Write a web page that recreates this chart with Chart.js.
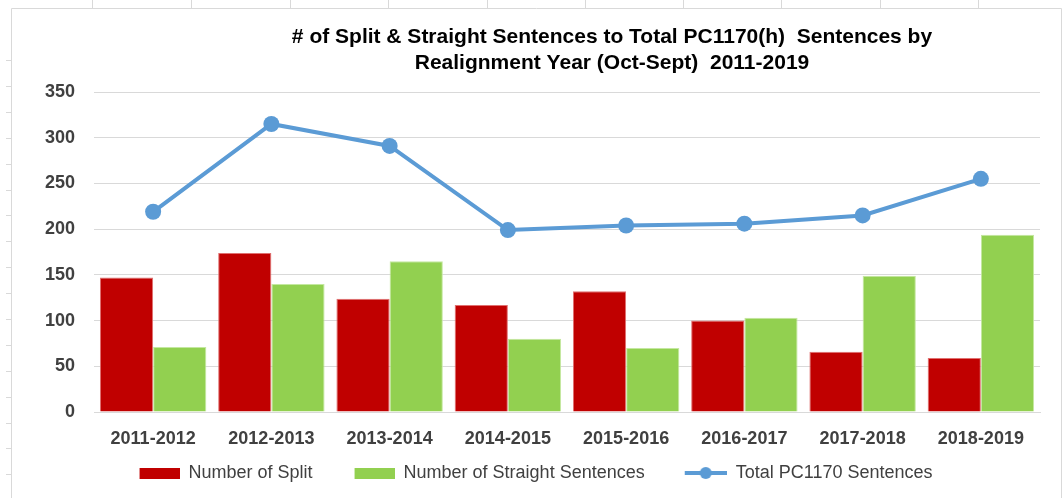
<!DOCTYPE html>
<html>
<head>
<meta charset="utf-8">
<script src="https://cdn.jsdelivr.net/npm/chart.js@4.4.1/dist/chart.umd.min.js"></script>
<style>
  html, body { margin: 0; padding: 0; background: #fff; }
  #wrap { width: 1062px; height: 498px; position: relative; }
</style>
</head>
<body>
<div id="wrap"><canvas id="chart"></canvas></div>
<script>
// Data
const years = ["2011-2012", "2012-2013", "2013-2014", "2014-2015", "2015-2016", "2016-2017", "2017-2018", "2018-2019"];
const splitCounts = [147, 174, 124, 117, 132, 100, 66, 59];
const straightCounts = [71, 140, 165, 80, 70, 103, 149, 194];
const totalCounts = [219, 315, 291, 199, 204, 206, 215, 255];
const seriesNames = ["Number of Split", "Number of Straight Sentences", "Total PC1170 Sentences"];
const titleLines = ["# of Split & Straight Sentences to Total PC1170(h)  Sentences by", "Realignment Year (Oct-Sept)  2011-2019"];
const yMax = 350;
const yStep = 50;

const RED = "#C00000";
const GREEN = "#92D050";
const BLUE = "#5B9BD5";
const GRID = "#D9D9D9";

Chart.defaults.font.family = "'Liberation Sans', Arial, sans-serif";

// legend icons: transparent lead-in gives the gap between items
function makeIcon(kind, color) {
  const c = document.createElement("canvas");
  c.width = 72;
  c.height = 14;
  const g = c.getContext("2d");
  if (kind === "box") {
    g.fillStyle = color;
    g.fillRect(32, 2, 40, 11);
  } else {
    g.strokeStyle = color;
    g.lineWidth = 4;
    g.beginPath();
    g.moveTo(30, 7);
    g.lineTo(72, 7);
    g.stroke();
    g.fillStyle = color;
    g.beginPath();
    g.arc(51, 7, 6, 0, Math.PI * 2);
    g.fill();
  }
  return c;
}
const legendIcons = [makeIcon("box", RED), makeIcon("box", GREEN), makeIcon("line", BLUE)];

// sheet frame behind the chart + title
const frame = {
  id: "frame",
  beforeDraw(chart) {
    const ctx = chart.ctx;
    ctx.save();
    ctx.strokeStyle = GRID;
    ctx.lineWidth = 1;
    ctx.beginPath();
    ctx.moveTo(11.5, 498);
    ctx.lineTo(11.5, 8.5);
    ctx.lineTo(1061.5, 8.5);
    ctx.lineTo(1061.5, 498);
    [92, 191, 290, 388, 487, 585, 683, 781, 880, 978].forEach(x => {
      ctx.moveTo(x + 0.5, 0);
      ctx.lineTo(x + 0.5, 8);
    });
    for (let y = 60; y < 498; y += 25.9) {
      ctx.moveTo(6, Math.round(y) + 0.5);
      ctx.lineTo(11, Math.round(y) + 0.5);
    }
    ctx.stroke();

    ctx.fillStyle = "#000";
    ctx.font = "bold 21px 'Liberation Sans', Arial, sans-serif";
    ctx.textAlign = "center";
    ctx.textBaseline = "middle";
    ctx.fillText(titleLines[0], 612, 37);
    ctx.fillText(titleLines[1], 612, 63);
    ctx.restore();
  }
};

const legendFit = {
  id: "legendFit",
  beforeInit(chart) {
    if (!chart.legend) return;
    const fit = chart.legend.fit;
    chart.legend.fit = function () {
      fit.call(this);
      this.height = 44;
    };
  }
};

const ctx = document.getElementById("chart").getContext("2d");

new Chart(ctx, {
  type: "bar",
  data: {
    labels: years,
    datasets: [
      {
        label: seriesNames[0],
        data: splitCounts,
        backgroundColor: RED,
        borderColor: "#E07070",
        borderWidth: 1
      },
      {
        label: seriesNames[1],
        data: straightCounts,
        backgroundColor: GREEN,
        borderColor: "#C4E8A0",
        borderWidth: 1
      },
      {
        type: "line",
        label: seriesNames[2],
        data: totalCounts,
        borderColor: BLUE,
        backgroundColor: BLUE,
        borderWidth: 4,
        pointRadius: 8,
        pointHoverRadius: 8,
        pointBackgroundColor: BLUE,
        pointBorderWidth: 0,
        tension: 0
      }
    ]
  },
  options: {
    responsive: true,
    maintainAspectRatio: false,
    animation: false,
    layout: {
      padding: { top: 92, right: 22, bottom: 0, left: 0 }
    },
    datasets: {
      bar: { categoryPercentage: 0.9, barPercentage: 1 }
    },
    scales: {
      x: {
        grid: { display: false },
        border: { display: true, color: GRID, width: 1 },
        ticks: {
          color: "#404040",
          font: { size: 18, weight: "bold" },
          padding: 8,
          maxRotation: 0
        },
        afterFit(scale) { scale.height = 42; }
      },
      y: {
        min: 0,
        max: yMax,
        ticks: {
          stepSize: yStep,
          color: "#404040",
          font: { size: 18, weight: "bold" },
          padding: 19
        },
        grid: { color: GRID, drawTicks: false },
        border: { display: false },
        afterFit(scale) { scale.width = 94; }
      }
    },
    plugins: {
      title: { display: false },
      tooltip: { enabled: false },
      legend: {
        position: "bottom",
        labels: {
          usePointStyle: true,
          pointStyleWidth: 72,
          padding: 10,
          color: "#404040",
          font: { size: 18 },
          generateLabels(chart) {
            return chart.data.datasets.map((ds, i) => ({
              text: ds.label,
              pointStyle: legendIcons[i],
              fillStyle: "transparent",
              strokeStyle: "transparent",
              lineWidth: 0,
              fontColor: "#404040",
              hidden: !chart.isDatasetVisible(i),
              datasetIndex: i
            }));
          }
        }
      }
    }
  },
  plugins: [frame, legendFit]
});
</script>
</body>
</html>
